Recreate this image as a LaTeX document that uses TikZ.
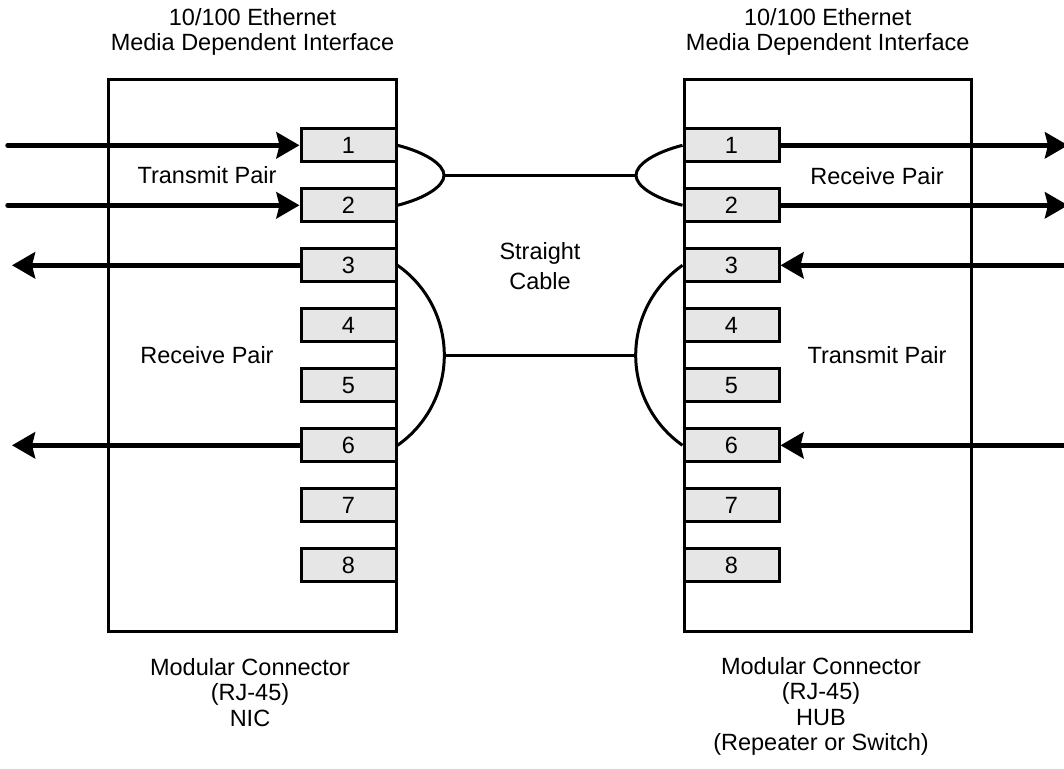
\documentclass[tikz,border=0pt]{standalone}
\usepackage{fontspec}
\setmainfont{Liberation Sans}
\usetikzlibrary{arrows.meta}
\definecolor{pingray}{RGB}{230,230,230}
\begin{document}
\begin{tikzpicture}[x=1pt,y=-1pt,
  box/.style={draw, line width=3pt, outer sep=0pt, inner sep=0pt},
  pinbox/.style={draw, line width=3pt, fill=pingray, minimum width=95pt, minimum height=33pt, inner sep=0pt, font=\fontsize{23.5}{24.5}\selectfont},
  sig/.style={line width=5.5pt, -{Stealth[length=23pt,width=26pt,inset=3pt]}},
  wire/.style={line width=3pt},
  lbl/.style={align=center, inner sep=0pt, anchor=base, font=\fontsize{23.5}{24.5}\selectfont}
]
\fill[white] (0,0) rectangle (1064,768);
\useasboundingbox (0,0) rectangle (1064,768);

% connector housings
\node[box, minimum width=288pt, minimum height=551.5pt] (nic) at (252,355.25) {};
\node[box, minimum width=287.7pt, minimum height=551.5pt] (hub) at (827.85,355.25) {};

% pins
\foreach \i in {1,...,8}{
  \node[pinbox] (a\i) at (348.5,{145.3+60*(\i-1)}) {\i};
  \node[pinbox] (b\i) at (731.5,{145.3+60*(\i-1)}) {\i};
}

% signal arrows, NIC side
\coordinate (l1) at (8,145.3);
\coordinate (l2) at (8,205.3);
\coordinate (l3) at (12,265.3);
\coordinate (l6) at (12,445.3);
\draw[sig, line cap=round] (l1) -- (a1.west);
\draw[sig, line cap=round] (l2) -- (a2.west);
\draw[sig] (a3.west) -- (l3);
\draw[sig] (a6.west) -- (l6);

% signal arrows, HUB side
\coordinate (r1) at (1068,145.3);
\coordinate (r2) at (1068,205.3);
\coordinate (r3) at (1070,265.3);
\coordinate (r6) at (1070,445.3);
\draw[sig] (b1.east) -- (r1);
\draw[sig] (b2.east) -- (r2);
\draw[sig] (r3) -- (b3.east);
\draw[sig] (r6) -- (b6.east);

% cable pair 1-2
\coordinate (cl1) at (444,175.3);
\coordinate (cr1) at (636,175.3);
\draw[wire] (a1.east) .. controls (425,152.3) and (444,164.3) .. (cl1)
            .. controls (444,186.3) and (425,198.3) .. (a2.east);
\draw[wire] (b1.west) .. controls (655,152.3) and (636,164.3) .. (cr1)
            .. controls (636,186.3) and (655,198.3) .. (b2.west);
\draw[wire] (cl1) -- (cr1);

% cable pair 3-6
\coordinate (cl2) at (444.3,355.3);
\coordinate (cr2) at (635.7,355.3);
\draw[wire] (a3.east) .. controls (426.8,285.8) and (444.3,319.4) .. (cl2)
            .. controls (444.3,391.2) and (426.8,424.8) .. (a6.east);
\draw[wire] (b3.west) .. controls (653.2,285.8) and (635.7,319.4) .. (cr2)
            .. controls (635.7,391.2) and (653.2,424.8) .. (b6.west);
\draw[wire] (cl2) -- (cr2);

% labels (base anchor = baseline of the last line)
\node[lbl] (tl) at (252.5,50) {10/100 Ethernet\\Media Dependent Interface};
\node[lbl] (tr) at (827.7,50) {10/100 Ethernet\\Media Dependent Interface};
\node[lbl] (txl) at (207,183.5) {Transmit Pair};
\node[lbl] (rxl) at (207,363.5) {Receive Pair};
\node[lbl] (rxr) at (877,184) {Receive Pair};
\node[lbl] (txr) at (877,363.5) {Transmit Pair};
\node[lbl, font=\fontsize{23.5}{29.7}\selectfont] (cab) at (540,289) {Straight\\Cable};
\node[lbl, font=\fontsize{23.5}{25.7}\selectfont] (bl) at (250,726.4) {Modular Connector\\(RJ-45)\\NIC};
\node[lbl, font=\fontsize{23.5}{25.5}\selectfont] (br) at (821,750.5) {Modular Connector\\(RJ-45)\\HUB\\(Repeater or Switch)};
\end{tikzpicture}
\end{document}
